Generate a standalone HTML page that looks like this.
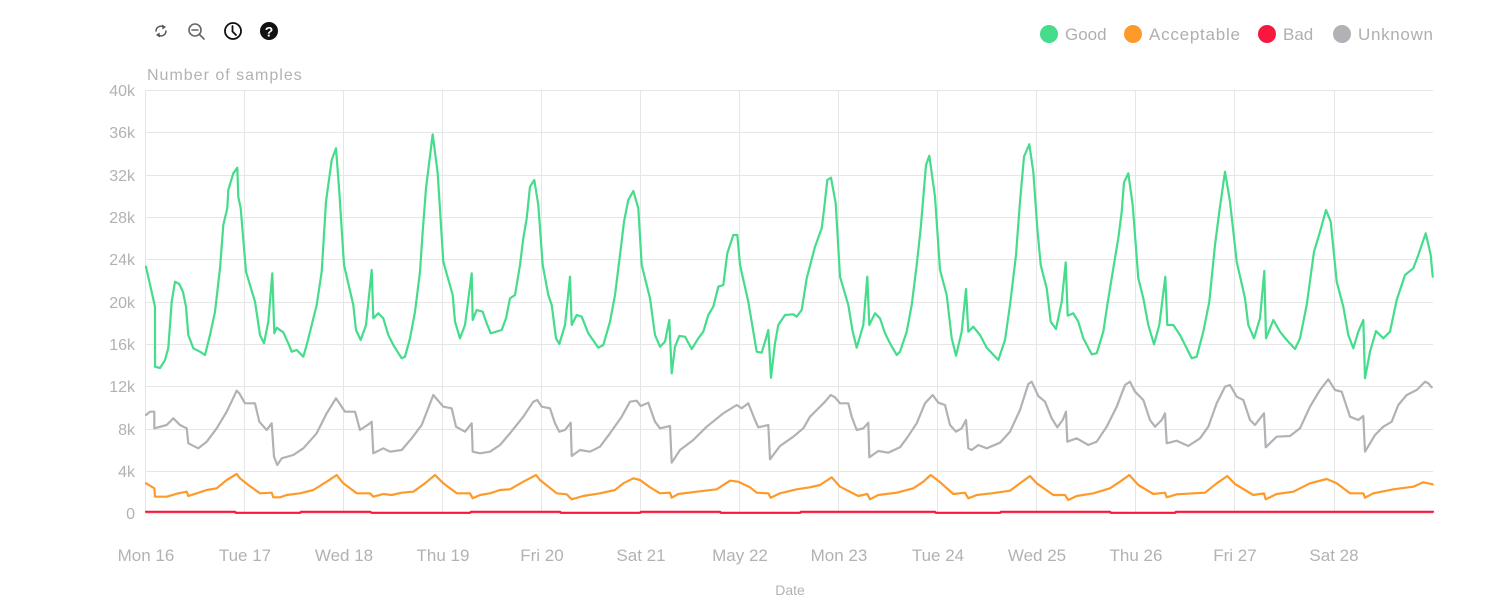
<!DOCTYPE html>
<html>
<head>
<meta charset="utf-8">
<style>
  html,body{margin:0;padding:0;background:#fff;}
  body{width:1498px;height:608px;overflow:hidden;font-family:"Liberation Sans",sans-serif;}
  svg{display:block;}
  .yl{font-size:16px;fill:#b3b1b6;text-anchor:end;}
  .xl{font-size:17px;fill:#b3b1b6;text-anchor:middle;}
  .lg{font-size:17px;fill:#b0aeb3;}
</style>
</head>
<body>
<svg width="1498" height="608" viewBox="0 0 1498 608" xmlns="http://www.w3.org/2000/svg">
  <!-- toolbar icons -->
  <g fill="none" stroke="#555" stroke-width="1.5" stroke-linecap="round">
    <path d="M156,31 A5,5 0 0 1 163.5,26.8"/>
    <path d="M166,31 A5,5 0 0 1 158.5,35.2"/>
  </g>
  <path d="M162,24.5 L166,27 L162.5,29.5 Z" fill="#555"/>
  <path d="M160,37.5 L156,35 L159.5,32.5 Z" fill="#555"/>
  <g fill="none" stroke="#666" stroke-width="1.6" stroke-linecap="round">
    <circle cx="195" cy="30" r="6"/>
    <line x1="199.5" y1="34.5" x2="204" y2="39"/>
    <line x1="192" y1="30" x2="198" y2="30"/>
  </g>
  <g fill="none" stroke="#111" stroke-width="1.8" stroke-linecap="round">
    <circle cx="233" cy="31" r="8"/>
    <path d="M232.5,26 L232.5,31.5 L236,35"/>
  </g>
  <circle cx="269" cy="31" r="9" fill="#111"/>
  <text x="269" y="36.5" font-size="14" font-weight="bold" fill="#fff" text-anchor="middle" font-family="Liberation Sans, sans-serif">?</text>

  <!-- legend -->
  <circle cx="1049" cy="34" r="9" fill="#45dc8b"/>
  <text class="lg" x="1065" y="40">Good</text>
  <circle cx="1133" cy="34" r="9" fill="#fe9a2a"/>
  <text class="lg" x="1149" y="40" textLength="91">Acceptable</text>
  <circle cx="1267" cy="34" r="9" fill="#f8173f"/>
  <text class="lg" x="1283" y="40">Bad</text>
  <circle cx="1342" cy="34" r="9" fill="#b3b1b6"/>
  <text class="lg" x="1358" y="40" textLength="75">Unknown</text>

  <!-- axis title -->
  <text x="147" y="80" font-size="16" fill="#b3b1b6" letter-spacing="1">Number of samples</text>

  <!-- horizontal gridlines -->
  <g stroke="#e6e6e6" stroke-width="1">
    <line x1="145" y1="90.5" x2="1433" y2="90.5"/>
    <line x1="145" y1="132.5" x2="1433" y2="132.5"/>
    <line x1="145" y1="175.5" x2="1433" y2="175.5"/>
    <line x1="145" y1="217.5" x2="1433" y2="217.5"/>
    <line x1="145" y1="259.5" x2="1433" y2="259.5"/>
    <line x1="145" y1="302.5" x2="1433" y2="302.5"/>
    <line x1="145" y1="344.5" x2="1433" y2="344.5"/>
    <line x1="145" y1="386.5" x2="1433" y2="386.5"/>
    <line x1="145" y1="429.5" x2="1433" y2="429.5"/>
    <line x1="145" y1="471.5" x2="1433" y2="471.5"/>
    <line x1="145" y1="513.5" x2="1433" y2="513.5"/>
  </g>
  <!-- vertical gridlines -->
  <g stroke="#e6e6e6" stroke-width="1">
    <line x1="145.5" y1="90" x2="145.5" y2="514"/>
    <line x1="244.5" y1="90" x2="244.5" y2="514"/>
    <line x1="343.5" y1="90" x2="343.5" y2="514"/>
    <line x1="442.5" y1="90" x2="442.5" y2="514"/>
    <line x1="541.5" y1="90" x2="541.5" y2="514"/>
    <line x1="640.5" y1="90" x2="640.5" y2="514"/>
    <line x1="739.5" y1="90" x2="739.5" y2="514"/>
    <line x1="838.5" y1="90" x2="838.5" y2="514"/>
    <line x1="937.5" y1="90" x2="937.5" y2="514"/>
    <line x1="1036.5" y1="90" x2="1036.5" y2="514"/>
    <line x1="1135.5" y1="90" x2="1135.5" y2="514"/>
    <line x1="1234.5" y1="90" x2="1234.5" y2="514"/>
    <line x1="1334.5" y1="90" x2="1334.5" y2="514"/>
  </g>

  <!-- y labels -->
  <text class="yl" x="135" y="96">40k</text>
  <text class="yl" x="135" y="138">36k</text>
  <text class="yl" x="135" y="181">32k</text>
  <text class="yl" x="135" y="223">28k</text>
  <text class="yl" x="135" y="265">24k</text>
  <text class="yl" x="135" y="308">20k</text>
  <text class="yl" x="135" y="350">16k</text>
  <text class="yl" x="135" y="392">12k</text>
  <text class="yl" x="135" y="435">8k</text>
  <text class="yl" x="135" y="477">4k</text>
  <text class="yl" x="135" y="519">0</text>

  <!-- x labels -->
  <text class="xl" x="146" y="561">Mon 16</text>
  <text class="xl" x="245" y="561">Tue 17</text>
  <text class="xl" x="344" y="561">Wed 18</text>
  <text class="xl" x="443" y="561">Thu 19</text>
  <text class="xl" x="542" y="561">Fri 20</text>
  <text class="xl" x="641" y="561">Sat 21</text>
  <text class="xl" x="740" y="561">May 22</text>
  <text class="xl" x="839" y="561">Mon 23</text>
  <text class="xl" x="938" y="561">Tue 24</text>
  <text class="xl" x="1037" y="561">Wed 25</text>
  <text class="xl" x="1136" y="561">Thu 26</text>
  <text class="xl" x="1235" y="561">Fri 27</text>
  <text class="xl" x="1334" y="561">Sat 28</text>

  <text x="790" y="595" font-size="14" fill="#b3b1b6" text-anchor="middle">Date</text>

  <!-- series -->
  <g fill="none" stroke-width="2.2" stroke-linejoin="round" stroke-linecap="round">
    <!-- Bad -->
    <polyline stroke="#f8173f" points="146,511.8 235,511.8 236,512.8 300,512.8 301,511.8 370,511.8 372,512.8 470,512.8 471,511.8 560,511.8 561,512.8 640,512.8 641,511.8 720,511.8 721,512.8 800,512.8 801,511.8 935,511.8 936,512.8 1000,512.8 1001,511.8 1110,511.8 1111,512.8 1175,512.8 1176,511.8 1433,511.8"/>
    <!-- Acceptable -->
    <polyline stroke="#fe9a2a" points="146,483.3 151.7,486.7 154.3,488.3 155,496.7 166.7,496.7 178.3,493.3 186.7,491.7 188.3,496 196.7,493.3 206.7,490 216.7,488.3 226.7,480 236.7,474 240,478.3 248.3,485 260,493.3 271.7,492.7 273.3,497.3 280,497.3 286.7,495 300,493.3 313.3,490 326.7,481.7 336.7,475 343.3,483.3 356.7,493.3 370,493.3 373.3,496.7 383.3,494 391.7,495 401.7,492.7 413.3,491.7 425,483.3 435,475 443.3,483.3 456.7,493.3 470,493.3 472.7,498.3 480,495 490,493.3 500,490 510,489.3 523.3,481.7 536,475 540,480 556.7,493.3 566.7,494.3 571.7,499.3 583.3,496 600,493.3 615,490 623.3,483.3 633.3,478.3 640,480 650,487.3 660,493.3 670,492.7 671.7,497.7 678.3,494 696.7,491.7 716.7,489.3 730,480.7 738.3,481.7 750,487.3 756.7,492.7 768.3,493.3 770.7,497.7 780,493.3 796.7,489.3 810,487.3 820,485 831.7,477.3 840,486.7 858.3,496 867.3,494 870,499.3 878.3,495 896.7,492.7 913.3,488.3 923.3,481.7 930.7,475 938.3,480.7 953.3,494 965,492.7 968.3,498.3 976.7,495 991.7,493.3 1010,490.7 1020,483.3 1030,476 1036.7,483.3 1053.3,495 1065,495 1068.3,500 1076.7,496 1093.3,493.3 1110,488.3 1120,481.7 1129.3,475 1138.3,485 1153.3,494 1165,492.7 1166.7,497.3 1176.7,494.3 1205,492.7 1216.7,483.3 1227.3,476 1235,484 1253.3,495 1264,493.3 1265.7,499.3 1276.7,494 1293.3,491.7 1310,483.3 1326.7,479 1336.7,483.3 1350,493.3 1363.3,493.3 1365,497.7 1373.3,493.3 1393.3,489.3 1413.3,486.7 1423.3,482.3 1432.7,484.3"/>
    <!-- Unknown -->
    <polyline stroke="#b3b1b6" points="146,415 150,411.7 154.3,411.7 154.3,428.3 166.7,425 173.3,418.3 180,425 186.7,428.3 188.3,443.3 198.3,448.3 206.7,441.7 216.7,428.3 226.7,411.7 236.7,390.7 239.3,393.3 245,403.3 255,403.3 259.3,421.7 266.7,430 271.7,423.3 274,456.7 277.3,465 281.7,458.3 293.3,455 303.3,448.3 316.7,433.3 326.7,413.3 336,398.3 345,411.7 355,411.7 360,430 370,423.3 371.7,421.7 373.3,453.3 383.3,448.3 390,451.7 401.7,450 411.7,438.3 421.7,425 433.3,395 443.3,406.7 451.7,408.3 456,426.7 465,431.7 471.7,423.3 472.7,451.7 480,453.3 490,451.7 500,445 510,433.3 523.3,416.7 533.3,401.7 537.3,400 541.7,406.7 550,408.3 555,423.3 559.3,431.7 565,430 570.7,422.7 571.7,456 580,450 590,451.7 600,446.7 610,433.3 621.7,416.7 630,401.7 636.7,400.7 640.7,406 648.3,402.7 655,421.7 660,428.3 670,426 671.7,462.7 680,450 693.3,440 706.7,426.7 723.3,413.3 736.7,405 741.7,408.3 748.3,403.3 755,420 758.3,427.3 768.3,425 770,459.3 780,446 793.3,436.7 803.3,428.3 810,416.7 816.7,410 825,401.7 830.7,395 835,397.3 840,403.3 848.3,403.3 851.7,416.7 856.7,430 863.3,428.3 868.3,422.7 869.3,457.3 878.3,451 888.3,452.7 900,447.3 906.7,438.3 916.7,423.3 925,403.3 932.7,395 938.3,402.7 945,405 950,425 956,431.7 961.7,428.3 966,420 968.3,448.3 971.7,450 978.3,445 986.7,448.3 1000,442.7 1010,431.7 1020,410 1028.3,384 1031.7,381.7 1038.3,396 1045,401.7 1051.7,418.3 1057.3,427.3 1062.7,420 1066,411.7 1067.3,441.7 1076.7,438.3 1088.3,445 1096.7,441.7 1106.7,426.7 1116.7,406.7 1125,385 1130,381.7 1135,391.7 1143.3,400 1150,420 1155,426.7 1161.7,420 1165,413.3 1166.7,443.3 1176.7,440.7 1188.3,446 1200,438.3 1208.3,426.7 1216.7,403.3 1225,386.7 1230,385 1236.7,396.7 1243.3,400 1250,420 1255,425 1264,413.3 1265.7,447.3 1276.7,436.7 1290,436 1300,428.3 1310,406.7 1320,390 1328.3,379.3 1335,390 1341.7,391.7 1350,416.7 1358.3,420 1363.3,416 1365,451.7 1375,435 1383.3,426.7 1391.7,421.7 1398.3,405 1406.7,395 1416.7,390 1425,381.7 1428.3,383.3 1431.7,387.3"/>
    <!-- Good -->
    <polyline stroke="#45dc8b" points="146,266.7 155,306.7 155,366.7 160,368 165,360 168.3,348 171.7,301.7 175,281.7 179.3,284 183,292 186,306.7 188.3,335 193.3,348.3 200,351.7 205,355 210,335 215,311.7 220,268.3 223.3,225 227.3,208.3 228.3,190 233.3,173.3 237.3,167.7 238.3,196.7 240.7,208.3 246,271.7 255,301.7 260,335 264,343.3 268.3,321.7 272.3,273.3 274.3,333.3 276.7,327.7 283.3,332.3 288.3,343.3 291.7,351.7 296.7,350 303.3,356.7 306.7,345 311.7,325 316.7,305 321.7,271.7 326,201.7 331.7,160 336,148.3 339.3,191.7 344,265 353.3,305 356,330 360.7,340 366,325 371.7,270 373.3,318.3 378.3,313.3 383.3,318.3 388.3,335 393.3,345 401.7,358.3 405,356.7 410,338.3 415,311.7 420,271.7 422.7,231.7 426,188.3 432.7,134.3 437.7,173.3 443.3,261.7 452.7,295 455,321.7 460,338.3 465,325 471.7,273.3 472.7,320 476.7,310 482.7,311.7 486.7,323.3 490.7,333.3 501.7,330 506,318.3 510,298.3 515,295 520,265 523.3,238.3 526.7,218.3 530,186.7 534.3,180 538.3,205 542.7,265 548.3,295 551.7,305 556,338.3 559.3,344 565,325 570,276.7 571.7,325 576.7,315 581.7,316.7 588.3,333.3 598.3,347.7 603.3,345 610,321.7 615,295 620,255 624,221.7 628.3,200 633.3,191 638.3,208.3 641.7,265 650,298.3 655,335 660,346.7 665,341.7 669.3,320 671.7,373.3 675,346.7 679.3,336 685,336.7 691.7,349 698.3,338.3 703.3,331.7 708.3,315 713.3,306.7 718.3,286.7 723.3,285 727.3,253.3 733.3,235 737.3,235 740,265 748.3,301.7 756.7,351.7 761.7,352.7 765,341.7 768.3,330 771,377.7 775,343.3 778.3,325 785,315 793.3,314.3 796.7,316.7 801.7,310 806.7,278.3 815,246.7 821.7,228.3 824,210 827.3,180 831,177.7 835.7,203.3 840,276.7 848.3,305 852.7,331.7 856.7,347.7 863.3,325 867.3,276.7 869.3,325 875,313.3 880,318.3 885,333.3 890,343.3 896.7,355 900,351.7 906.7,331.7 911.7,305 916.7,265 920.7,228.3 926,165 929.3,155.7 935,196.7 940,270 946.7,295 951.7,338.3 956,355.7 961.7,331.7 966,289 968.3,331.7 973.3,326.7 980,335 986.7,347.7 998.3,360 1005,340 1010,305 1016,255 1020,201.7 1024,156.7 1029.3,144.3 1033.3,171.7 1037.3,228.3 1040.7,265 1046.7,288.3 1050.7,321.7 1056,329 1061.7,301.7 1065.7,262.3 1067.7,315.7 1073.3,313.3 1078.3,321.7 1083.3,338.3 1091.7,354.3 1096.7,353.3 1103.3,331.7 1107.3,305 1113.3,268.3 1118.3,238.3 1121.7,211.7 1124,182.3 1128.3,173.3 1132.7,205 1138.3,278.3 1143.3,298.3 1148.3,325 1154,344.3 1159.3,325 1165.3,276.7 1167.3,325 1173.3,325 1180,335 1186.7,348.3 1191.7,358.3 1196.7,356.7 1203.3,331.7 1209.3,301.7 1215,245 1219.3,211.7 1225,171.7 1230,201.7 1236.7,261.7 1245,298.3 1248.3,325 1254,338.3 1260,318.3 1264.3,271 1266,338.3 1273.3,320 1280,331.7 1286.7,340 1295,349 1300,338.3 1306.7,305 1314,251.7 1320,231.7 1326,210 1330.7,221.7 1336.7,281.7 1343.3,306.7 1348.3,335 1353.3,348.3 1358.3,331.7 1363.3,320 1365,378.3 1370,351.7 1376,331 1383.3,338.3 1390,331.7 1396.7,300 1405,275 1413.3,268.3 1418.3,255 1425.7,233.3 1430.7,255 1432.7,276.7"/>
  </g>
</svg>
</body>
</html>
